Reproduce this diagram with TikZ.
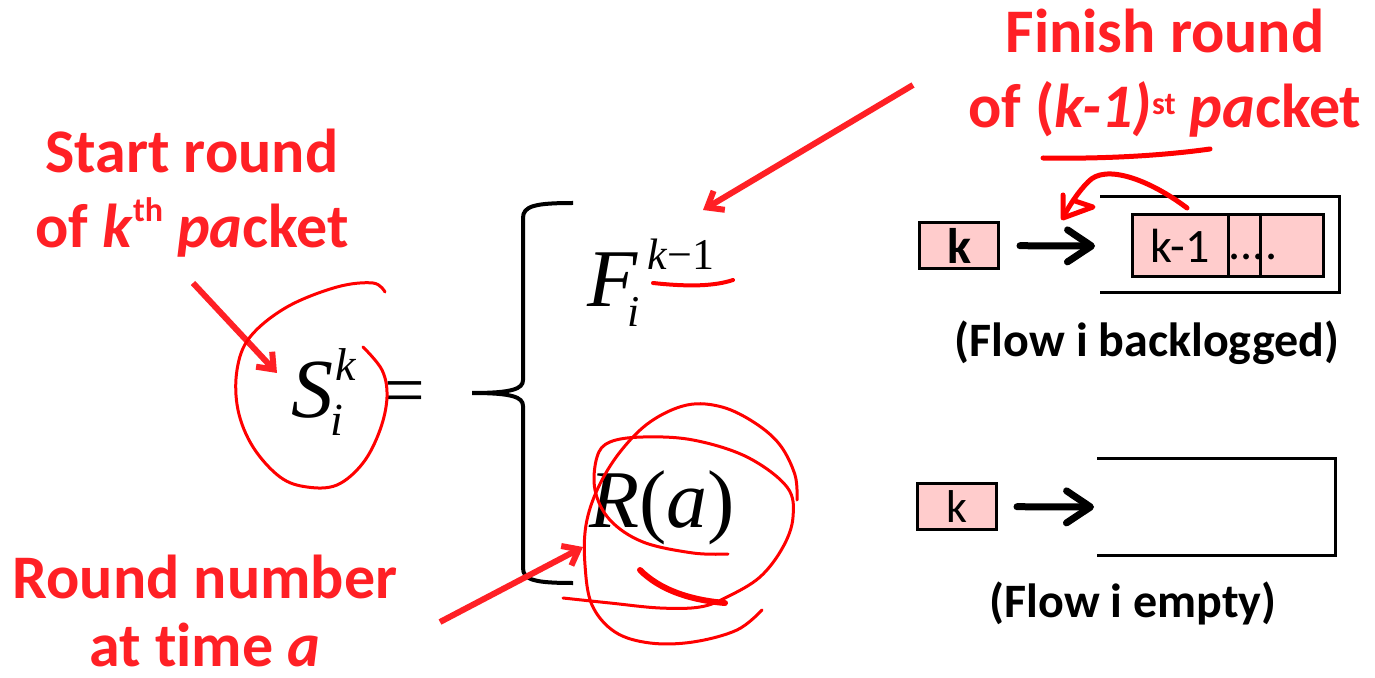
\documentclass[tikz,border=0pt]{standalone}
\usepackage{fontspec}
\setmainfont{Carlito}[Ligatures=NoCommon]
\newfontfamily\tms{Liberation Serif}
\usetikzlibrary{arrows.meta}
\definecolor{txtred}{RGB}{255,32,37}
\definecolor{penred}{RGB}{255,0,0}
\definecolor{pktpink}{RGB}{255,204,204}
\newcommand\fsz[2][]{\fontsize{#2}{#2}\selectfont}
\begin{document}
\begin{tikzpicture}[x=0.5pt,y=-0.5pt,
  redlabel/.style={text=txtred, font=\bfseries\fontsize{31}{37.5}\selectfont, align=center, inner sep=0, anchor=base},
  flowlabel/.style={font=\bfseries\fontsize{24}{24}\selectfont, inner sep=0, anchor=base},
  pkt/.style={draw=black, line width=1.5pt, fill=pktpink, inner sep=0},
  qline/.style={line width=1.5pt},
  qarrow/.style={line width=3.5pt, line cap=round, -{Straight Barb[length=12pt,width=16pt,round]}},
  redarrow/.style={draw=txtred, line width=3pt, -{Straight Barb[length=7pt,width=11pt]}},
  scribble/.style={draw=penred, line width=1.5pt, line cap=round, line join=round},
  mth/.style={inner sep=0, anchor=base west}]
\fill[white] (0,0) rectangle (1375,678);
\path[use as bounding box] (0,0) rectangle (1375,678);

% red labels (base anchor = baseline of last line)
\node[redlabel] (start) at (192,248) {Start round\\of \textit{k}\raisebox{13pt}{\fsz{17}th} \textit{pa}cket};
\node[redlabel] (finish) at (1165,128) {Finish round\\of (\textit{k-1)}\raisebox{6.5pt}{\fsz{16}st} \textit{pa}cket};
\node[redlabel, font=\bfseries\fontsize{31}{34}\selectfont] (round) at (205,666) {Round number\\at time \textit{a}};

% formula
\node[mth, font=\tms\itshape\fsz{42}] (S) at (291,417) {S};
\node[mth, font=\tms\itshape\fsz{23}] (Ssup) at (335,380) {k};
\node[mth, font=\tms\itshape\fsz{23}] (Ssub) at (330,435) {i};
\node[inner sep=0, anchor=base, font=\tms\fsz{36}] (eq) at (405,415) {=};
\node[mth, font=\tms\itshape\fsz{41}] (F) at (587,307) {F};
\node[mth, font=\tms\fsz{22}] (Fsup) at (647,270) {\textit{k}−1};
\node[mth, font=\tms\itshape\fsz{22}] (Fsub) at (627,327) {i};
\node[mth, font=\tms\fsz{41}] (R) at (589,527) {\textit{R}(\textit{a})};

% brace
\draw[line width=2pt] (573,203) .. controls (535,203) and (523,206) .. (523,218) -- (523,380)
  .. controls (523,389) and (512,393) .. (472,393)
  .. controls (512,393) and (523,397) .. (523,406) -- (523,568)
  .. controls (523,580) and (535,583) .. (573,583);

% backlogged queue
\node[pkt, minimum width=39.5pt, minimum height=23pt, font=\bfseries\fsz{25}] (k1) at (959,245.5) {k};
\coordinate (q1in) at (1095,246);
\draw[qarrow, shorten <=10pt] (k1) -- (q1in);
\draw[qline] (1100,197) -- (1339.5,197) -- (1339.5,293) -- (1100,293);
\node[pkt, minimum width=47.75pt, minimum height=31pt, font=\fsz{24}] (c1) at (1180.25,245.5) {k-1};
\node[pkt, minimum width=16pt, minimum height=31pt] (c2) at (1244,245.5) {};
\node[pkt, minimum width=31.75pt, minimum height=31pt] (c3) at (1291.75,245.5) {};
\node[font=\fsz{24}, inner sep=0, anchor=base] (dots) at (1253,260) {....};
\node[flowlabel] (fl1) at (1147,357) {(Flow i backlogged)};

% empty queue
\node[pkt, minimum width=39.5pt, minimum height=23pt, font=\fsz{23}] (k2) at (957,506.5) {k};
\coordinate (q2in) at (1094,507);
\draw[qarrow, shorten <=9.5pt] (k2) -- (q2in);
\draw[qline] (1097,458) -- (1335.5,458) -- (1335.5,555) -- (1097,555);
\node[flowlabel] (fl2) at (1133,617) {(Flow i empty)};

% red arrows
\coordinate (sa1) at (193,283); \coordinate (sa2) at (277,373);
\draw[redarrow] (sa1) -- (sa2);
\coordinate (fa1) at (913,85); \coordinate (fa2) at (703,210);
\draw[redarrow] (fa1) -- (fa2);
\coordinate (ra1) at (440,622); \coordinate (ra2) at (583,547);
\draw[redarrow] (ra1) -- (ra2);

% handwriting
\draw[scribble] plot[smooth, tension=0.6] coordinates {(385,292) (373,283) (337,287) (287,307) (250,337) (237,370) (238,410) (253,447) (280,477) (307,487) (337,485) (363,463) (380,430) (387,397) (382,370) (363,347)};
\draw[scribble, line width=2pt] (653,283) .. controls (690,287) and (715,286) .. (733,280);
\draw[scribble] plot[smooth, tension=0.6] coordinates {(728,554) (693,553) (643,542) (610,520) (595,490) (597,457) (610,442) (643,437) (693,440) (747,457) (787,487) (793,517) (783,547) (760,577) (727,597) (700,607) (660,608) (610,603) (563,598)};
\draw[scribble] plot[smooth, tension=0.6] coordinates {(762,610) (737,630) (693,642) (650,643) (615,632) (592,605) (585,565) (586,525) (598,488) (620,452) (650,422) (687,405) (722,407) (755,423) (780,445) (795,475) (797,500)};
\draw[scribble, line width=3pt] (640,570) .. controls (660,590) and (690,600) .. (725,603);
\draw[scribble, line width=2.5pt] (1043,158) .. controls (1100,159) and (1160,156) .. (1210,149);
\draw[scribble, line width=2.5pt] (1187,208) .. controls (1150,180) and (1105,163) .. (1088,182) .. controls (1078,192) and (1070,205) .. (1066,212);
\draw[scribble, line width=2.5pt] (1063,195) -- (1063,218) -- (1093,207) -- (1075,201);
\end{tikzpicture}
\end{document}
